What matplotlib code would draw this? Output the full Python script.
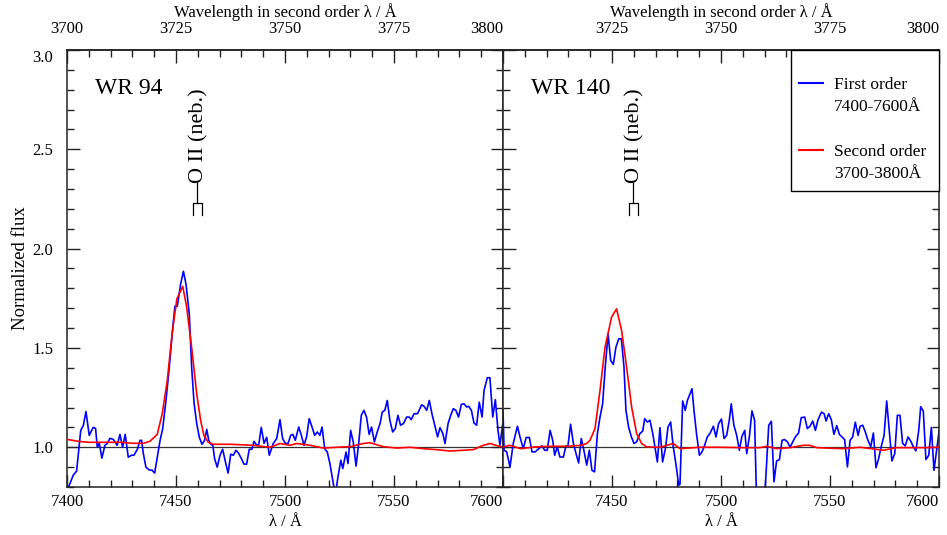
import matplotlib
matplotlib.use("Agg")
import matplotlib.pyplot as plt
from matplotlib.ticker import MultipleLocator
from matplotlib.lines import Line2D

plt.rcParams['font.family'] = ['Liberation Serif', 'DejaVu Serif']
plt.rcParams['font.size'] = 12

# ---------------- data ----------------
# WR 94, first order spectrum (blue)
wr94_wl = [7400, 7402.9, 7404.4, 7406.3, 7407.5, 7408.7, 7410.2, 7412.0, 7413.1, 7413.9,
           7414.8, 7416.0, 7417.4, 7418.5, 7419.7, 7421.2, 7423.0, 7424.3, 7425.5, 7426.7,
           7428.1, 7429.6, 7430.7, 7432.3, 7433.5, 7434.2, 7435.0, 7436.2, 7437.8, 7439.0,
           7440.2, 7441.4, 7442.7, 7443.9, 7445.4, 7446.9, 7448.5, 7449.5, 7450.6, 7452.1,
           7453.4, 7454.6, 7456.1, 7457.2, 7458.3, 7459.5, 7460.7, 7461.9, 7463.1, 7464.1,
           7465.0, 7466.0, 7466.9, 7467.7, 7468.9, 7470.2, 7471.4, 7472.6, 7473.9, 7475.1,
           7476.3, 7477.5, 7478.7, 7480.0, 7481.2, 7482.4, 7483.6, 7484.8, 7485.8, 7487.0,
           7488.0, 7489.1, 7490.4, 7491.6, 7492.8, 7494.6, 7496.2, 7497.7, 7498.9, 7500.2,
           7501.4, 7502.6, 7503.6, 7504.7, 7506.3, 7507.5, 7508.7, 7509.9, 7511.1, 7512.4,
           7513.6, 7514.8, 7516.0, 7517.0, 7518.2, 7519.4, 7520.6, 7521.9, 7523.1, 7524.3,
           7525.6, 7526.5, 7528.0, 7528.9, 7530.1, 7531.3, 7532.6, 7533.8, 7535.0, 7536.2,
           7537.4, 7538.6, 7539.7, 7541.0, 7542.3, 7543.6, 7544.6, 7545.8, 7546.9, 7548.1,
           7549.4, 7550.6, 7551.8, 7553.0, 7554.3, 7555.8, 7557.0, 7557.9, 7559.2, 7560.8,
           7562.7, 7563.8, 7565.0, 7566.2, 7567.4, 7568.9, 7570.0, 7571.1, 7572.4, 7573.4,
           7574.8, 7576.0, 7577.2, 7578.4, 7579.6, 7580.9, 7582.1, 7583.3, 7584.3, 7585.5,
           7586.7, 7587.9, 7589.1, 7590.4, 7591.3, 7592.8, 7594.0, 7595.3, 7596.5, 7597.7,
           7598.6, 7599.9, 7600.5]
wr94_first = [0.78, 0.86, 0.88, 1.085, 1.11, 1.18, 1.06, 1.10, 1.095, 1.00,
              1.02, 0.945, 1.01, 1.02, 1.045, 1.04, 1.01, 1.065, 1.00, 1.065,
              0.95, 0.96, 0.96, 0.99, 1.035, 1.035, 0.97, 0.90, 0.885, 0.885,
              0.87, 0.95, 1.035, 1.094, 1.236, 1.40, 1.60, 1.71, 1.71, 1.82,
              1.886, 1.82, 1.67, 1.40, 1.22, 1.12, 1.05, 1.015, 1.035, 1.09,
              1.035, 1.015, 1.01, 0.943, 0.90, 0.96, 0.99, 0.93, 0.87, 0.965,
              0.96, 0.985, 0.97, 0.943, 0.915, 0.915, 0.99, 0.99, 1.03, 1.01,
              1.015, 1.10, 1.02, 1.05, 0.96, 1.019, 1.044, 1.139, 1.044, 1.019,
              1.019, 1.06, 1.065, 1.035, 1.102, 1.06, 1.01, 1.052, 1.144, 1.102,
              1.06, 1.077, 1.06, 1.102, 0.993, 0.976, 0.918, 0.834, 0.76, 0.851,
              0.935, 0.893, 0.976, 0.918, 1.085, 1.027, 0.905, 1.019, 1.161, 1.186,
              1.152, 1.065, 1.102, 1.027, 1.077, 1.119, 1.177, 1.186, 1.236, 1.136,
              1.077, 1.094, 1.161, 1.111, 1.119, 1.152, 1.152, 1.139, 1.169, 1.169,
              1.214, 1.206, 1.186, 1.236, 1.169, 1.102, 1.052, 1.099, 1.069, 1.019,
              1.119, 1.161, 1.194, 1.186, 1.152, 1.216, 1.219, 1.203, 1.206, 1.186,
              1.122, 1.111, 1.227, 1.152, 1.286, 1.35, 1.35, 1.152, 1.24, 1.085,
              1.01, 1.119, 0.943]

# WR 94, second order spectrum (red)
wr94_wl2 = [7400, 7405, 7410, 7415, 7420, 7425, 7430, 7435, 7438, 7441.4,
            7443.7, 7446.0, 7448.2, 7450.4, 7451.8, 7453.1, 7454.9, 7457.2, 7459.5, 7461.3,
            7462.8, 7464.8, 7467, 7475, 7485, 7493.1, 7497.7, 7502.3, 7505.4, 7511.5,
            7517.6, 7523.7, 7529.8, 7536.0, 7539.0, 7545.1, 7551.3, 7557.4, 7563.5, 7569.6,
            7575.7, 7581.8, 7586.4, 7591.0, 7594.1, 7598.7, 7600.5]
wr94_second = [1.04, 1.03, 1.025, 1.025, 1.025, 1.025, 1.02, 1.02, 1.03, 1.065,
               1.17, 1.337, 1.57, 1.747, 1.78, 1.81, 1.705, 1.50, 1.27, 1.135,
               1.06, 1.025, 1.015, 1.015, 1.01, 1.0, 1.019, 1.01, 1.019, 1.01,
               0.996, 1.0, 1.003, 1.019, 1.023, 1.003, 0.996, 1.0, 0.993, 0.988,
               0.981, 0.985, 0.988, 1.01, 1.019, 1.003, 1.0]

# WR 140, first order spectrum (blue)
wr140_wl = [7400, 7400.5, 7401.7, 7403.2, 7404.7, 7406.6, 7407.8, 7409.3, 7410.6, 7412.1,
            7413.3, 7414.8, 7416.4, 7417.9, 7419.1, 7420.3, 7421.6, 7422.8, 7423.7, 7424.9,
            7426.1, 7427.7, 7428.9, 7429.8, 7431.0, 7432.3, 7433.5, 7434.7, 7435.9, 7436.8,
            7438.4, 7439.6, 7440.8, 7442.0, 7443.3, 7444.5, 7445.7, 7446.9, 7448.2, 7449.4,
            7450.6, 7451.8, 7453.1, 7454.3, 7455.5, 7456.4, 7457.6, 7458.9, 7460.1, 7461.3,
            7462.8, 7464.1, 7465.0, 7466.2, 7467.4, 7468.7, 7469.7, 7470.8, 7472.0, 7473.2,
            7474.5, 7475.7, 7476.9, 7478.1, 7479.4, 7480.6, 7481.2, 7482.4, 7483.6, 7484.6,
            7485.5, 7486.7, 7487.6, 7488.8, 7490.1, 7491.3, 7492.5, 7493.7, 7494.9, 7496.5,
            7497.7, 7498.9, 7500.2, 7501.4, 7502.6, 7503.8, 7504.7, 7505.9, 7507.2, 7508.4,
            7509.6, 7510.9, 7511.8, 7513.0, 7514.2, 7515.4, 7516.4, 7517.9, 7519.8, 7521.9,
            7523.1, 7524.3, 7525.5, 7526.8, 7528.0, 7529.2, 7530.5, 7531.7, 7532.9, 7534.1,
            7535.6, 7536.8, 7538.4, 7539.6, 7540.8, 7542.1, 7543.3, 7544.5, 7546.1, 7547.3,
            7548.2, 7549.4, 7550.6, 7551.8, 7553.1, 7554.3, 7555.5, 7556.7, 7558.0, 7559.2,
            7560.4, 7561.6, 7562.9, 7563.8, 7565.0, 7566.2, 7567.4, 7568.7, 7569.9, 7571.1,
            7572.3, 7573.5, 7574.8, 7576.0, 7577.2, 7578.4, 7579.7, 7580.9, 7582.1, 7583.3,
            7584.5, 7585.8, 7587.0, 7588.2, 7589.4, 7590.7, 7591.6, 7592.8, 7594.0, 7595.3,
            7596.5, 7597.7, 7598.9, 7600.1]
wr140_first = [1.186, 0.985, 0.977, 0.901, 1.019, 1.106, 1.052, 0.993, 1.049, 1.049,
               0.977, 0.977, 0.993, 1.007, 0.985, 0.985, 1.085, 1.035, 0.96, 1.002,
               0.951, 0.951, 1.007, 1.007, 1.116, 1.019, 0.968, 0.921, 1.044, 1.002,
               0.91, 0.985, 0.884, 0.876, 1.069, 1.152, 1.219, 1.404, 1.571, 1.437,
               1.417, 1.504, 1.546, 1.546, 1.404, 1.186, 1.102, 1.052, 1.019, 1.027,
               1.069, 1.082, 1.144, 1.127, 1.136, 1.069, 1.002, 0.926, 1.099, 0.926,
               0.993, 1.102, 1.127, 1.002, 0.91, 0.809, 0.814, 1.233, 1.186, 1.236,
               1.261, 1.295, 1.186, 1.065, 0.96, 0.977, 1.01, 1.052, 1.069, 1.106,
               1.052, 1.119, 1.142, 1.044, 1.06, 1.136, 1.219, 1.111, 1.06, 0.985,
               1.055, 1.085, 0.968, 1.052, 1.183, 1.136, 0.70, 0.62, 0.70, 1.111,
               1.131, 0.826, 0.931, 0.938, 1.035, 1.039, 1.027, 1.0, 1.027, 1.052,
               1.072, 1.149, 1.152, 1.094, 1.106, 1.132, 1.085, 1.139, 1.177, 1.169,
               1.132, 1.169, 1.139, 1.065, 1.109, 1.065, 1.052, 1.039, 0.901, 1.035,
               1.052, 1.126, 1.06, 1.106, 1.111, 1.077, 1.035, 1.003, 1.072, 0.897,
               0.943, 1.003, 1.06, 1.233, 1.085, 0.931, 0.968, 1.161, 1.161, 1.02,
               1.007, 1.052, 1.032, 1.003, 0.982, 1.085, 1.204, 1.182, 0.938, 0.96,
               1.10, 0.884, 0.985, 1.085]

# WR 140, second order spectrum (red)
wr140_wl2 = [7400, 7403.2, 7408, 7415, 7422, 7430, 7436, 7438.4, 7439.9, 7442.2,
             7444.5, 7446.8, 7449.8, 7452.1, 7454.4, 7456.7, 7459.0, 7461.3, 7463.6, 7465.9,
             7472.0, 7478.1, 7481.2, 7490.4, 7499.5, 7510, 7517.9, 7521.0, 7525.5, 7531.7,
             7537.8, 7540.8, 7543.9, 7556.1, 7563.8, 7574.5, 7580.6, 7592.8, 7600.5]
wr140_second = [1.002, 1.01, 0.993, 1.002, 1.005, 1.005, 1.01, 1.019, 1.035, 1.094,
                1.286, 1.504, 1.655, 1.697, 1.588, 1.404, 1.203, 1.069, 1.019, 1.002,
                1.0, 1.019, 0.993, 1.0, 1.0, 0.998, 0.998, 1.005, 0.993, 0.998,
                1.01, 1.01, 0.998, 0.993, 1.0, 0.985, 0.998, 0.998, 1.0]

stars = ['WR 94', 'WR 140']
x_ticks = [7400, 7450, 7500, 7550, 7600]
top_ticks = [3700, 3725, 3750, 3775, 3800]
y_ticks = [1.0, 1.5, 2.0, 2.5, 3.0]
line_label = 'O II (neb.)'
doublet = [7457.9, 7461.8]   # bracket legs, first-order wavelength

# ---------------- figure ----------------
W, H = 947, 535
fig = plt.figure(figsize=(W / 100, H / 100), dpi=100)
ax1 = fig.add_axes([67 / W, 48 / H, 436 / W, 437 / H])
ax2 = fig.add_axes([503 / W, 48 / H, 436 / W, 437 / H])


def setup(ax, first):
    ax.set_xlim(7400, 7600)
    ax.set_ylim(0.8, 3.0)
    ax.xaxis.set_minor_locator(MultipleLocator(10))
    ax.yaxis.set_minor_locator(MultipleLocator(0.1))
    ax.tick_params(which='both', direction='in', left=True, right=True,
                   top=False, bottom=True, width=1, colors='#222222',
                   labelcolor='black', labelsize=12)
    ax.tick_params(which='major', length=9)
    ax.tick_params(which='minor', length=5)
    ax.tick_params(axis='x', pad=5)
    ax.tick_params(axis='y', pad=10)
    for s in ax.spines.values():
        s.set_linewidth(1.1)
        s.set_color('#222222')

    xl = [str(t) for t in x_ticks]
    if not first:
        xl[0] = ''
    ax.set_xticks(x_ticks, labels=xl)
    ax.get_xticklabels()[-1].set_ha('right')
    ax.set_yticks(y_ticks, labels=[f'{v:.1f}' for v in y_ticks])
    if first:
        ax.get_yticklabels()[-1].set_va('top')
    else:
        ax.tick_params(labelleft=False)
    ax.set_xlabel('λ / Å', fontsize=12, labelpad=3)

    sec = ax.secondary_xaxis('top', functions=(lambda x: x / 2, lambda x: x * 2))
    tl = [str(t) for t in top_ticks]
    if not first:
        tl[0] = ''
    sec.set_xticks(top_ticks, labels=tl)
    sec.xaxis.set_minor_locator(MultipleLocator(5))
    sec.tick_params(which='both', direction='in', width=1, colors='#222222',
                    labelcolor='black', labelsize=12, pad=9)
    sec.tick_params(which='major', length=9)
    sec.tick_params(which='minor', length=5)
    sec.get_xticklabels()[-1].set_ha('right')
    sec.spines['top'].set_linewidth(1.1)
    sec.spines['top'].set_color('#222222')
    sec.set_xlabel('Wavelength in second order λ / Å', fontsize=12, labelpad=3)


setup(ax1, True)
setup(ax2, False)

panels = [(ax1, wr94_wl, wr94_first, wr94_wl2, wr94_second),
          (ax2, wr140_wl, wr140_first, wr140_wl2, wr140_second)]

for (ax, wl, f1, wl2, f2), star in zip(panels, stars):
    ax.axhline(1.0, color='#333333', lw=0.9, zorder=1)
    ax.plot(wl, f1, color='#0000ff', lw=1.2, zorder=2)
    ax.plot(wl2, f2, color='#ff0000', lw=1.2, zorder=3)
    ax.text(0.065, 0.90, star, transform=ax.transAxes, fontsize=17,
            ha='left', va='baseline')
    # O II nebular line marker
    mid = sum(doublet) / 2
    ax.plot([doublet[0], doublet[0], doublet[1], doublet[1]],
            [2.17, 2.232, 2.232, 2.17], color='black', lw=0.9)
    ax.plot([mid, mid], [2.232, 2.33], color='black', lw=0.9)
    ax.text(mid + 0.6, 2.332, line_label, rotation=90, ha='center', va='bottom',
            fontsize=16)

ax1.set_ylabel('Normalized flux', fontsize=13.5, labelpad=2)

handles = [Line2D([], [], color='#0000ff', lw=1.5),
           Line2D([], [], color='none'),
           Line2D([], [], color='none'),
           Line2D([], [], color='#ff0000', lw=1.5),
           Line2D([], [], color='none')]
labels = ['First order', '7400-7600Å', ' ', 'Second order ', '3700-3800Å']
leg = ax2.legend(handles, labels, loc='upper right', borderaxespad=0,
                 fontsize=12.5, title=' ', title_fontsize=9,
                 labelspacing=0.355, handlelength=1.35, handletextpad=0.63,
                 borderpad=0.5, fancybox=False, framealpha=1,
                 edgecolor='black')
leg.get_frame().set_linewidth(1.0)

fig.savefig('out.png', dpi=100)
